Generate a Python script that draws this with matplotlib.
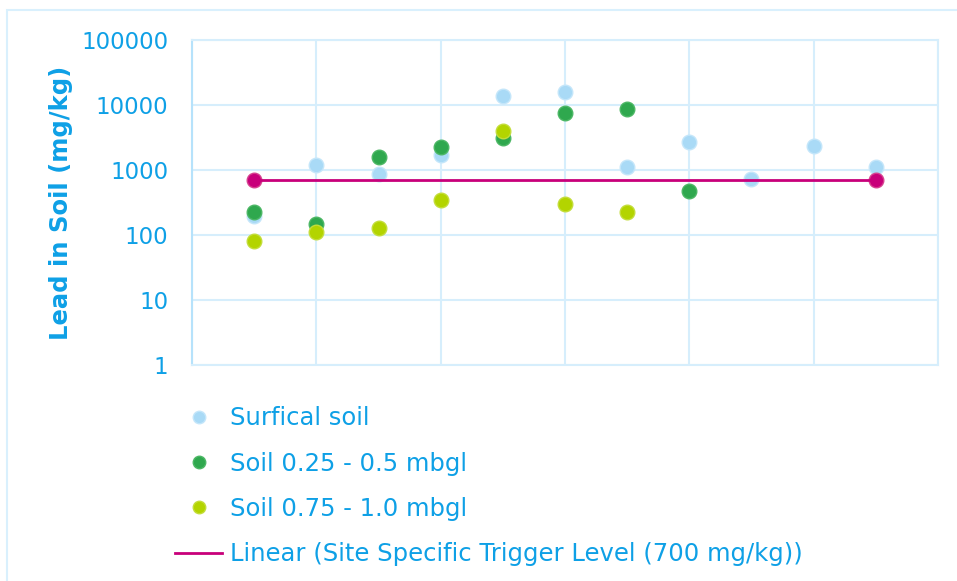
import numpy as np
import matplotlib.pyplot as plt
from matplotlib.lines import Line2D
from matplotlib.patches import Rectangle

# data (sample number along x, lead in mg/kg on y)
x_surf = [1, 2, 3, 4, 5, 6, 7, 8, 9, 10, 11]
surf = [195, 1200, 870, 1720, 13900, 15800, 1120, 2730, 730, 2340, 1120]

x_mid = [1, 2, 3, 4, 5, 6, 7, 8]
mid = [228, 148, 1570, 2290, 3070, 7600, 8560, 480]

x_deep = [1, 2, 3, 4, 5, 6, 7]
deep = [82, 112, 130, 349, 3980, 296, 228]

x_trig = [1, 11]
trig = [700, 700]

labels = ['Surfical soil', 'Soil 0.25 - 0.5 mbgl', 'Soil 0.75 - 1.0 mbgl',
          'Linear (Site Specific Trigger Level (700 mg/kg))']
yticks = [1, 10, 100, 1000, 10000, 100000]

txt_col = '#0ea0e6'
grid_col = '#d6eefc'
c_surf = '#a9daf6'
c_mid = '#2fa84e'
c_deep = '#b3d400'
c_trig = '#c8007a'

fig = plt.figure(figsize=(9.57, 5.81), dpi=100)
# outer chart frame
fig.patches.append(Rectangle((7/957, -0.1), 1.1, 1 - 10/581 + 0.1,
                             transform=fig.transFigure, fill=False,
                             edgecolor='#d9f0fd', linewidth=1.5))

ax = fig.add_axes([192/957, 1 - 365/581, (938 - 192)/957, (365 - 40)/581])
ax.set_yscale('log')
ax.set_ylim(1, 100000)
ax.set_xlim(0, 12)
ax.set_xticks(np.arange(0, 13, 2))
ax.set_xticklabels([])
ax.set_yticks(yticks)
ax.set_yticklabels([str(v) for v in yticks])
ax.minorticks_off()
ax.grid(True, color=grid_col, linewidth=1.5)
ax.set_axisbelow(True)
for s in ax.spines.values():
    s.set_color(grid_col)
    s.set_linewidth(1.5)
ax.spines['left'].set_color('#b6e2fb')

ms = 10.5
ax.plot(x_surf, surf, 'o', ms=ms, color=c_surf, mec='#c4e6fa', mew=1, zorder=3)
ax.plot(x_mid, mid, 'o', ms=ms, color=c_mid, mec='#4cb765', mew=1, zorder=4)
ax.plot(x_deep, deep, 'o', ms=ms, color=c_deep, mec='#c3dd3a', mew=1, zorder=5)
ax.plot(x_trig, trig, 'o', ms=ms, color=c_trig, mec='#d6418f', mew=1, zorder=6)
ax.plot(x_trig, trig, '-', color=c_trig, lw=2, zorder=6)

ax.set_ylabel('Lead in Soil (mg/kg)', fontsize=17.5, fontweight='bold',
              color=txt_col)
ax.yaxis.set_label_coords(-0.16, 0.5)
ax.tick_params(axis='both', length=0, pad=17, labelsize=16.5,
               labelcolor=txt_col)

handles = [
    Line2D([], [], ls='', marker='o', ms=9, color=c_surf, mec='#c4e6fa'),
    Line2D([], [], ls='', marker='o', ms=9, color=c_mid, mec='#4cb765'),
    Line2D([], [], ls='', marker='o', ms=9, color=c_deep, mec='#c3dd3a'),
    Line2D([], [], color=c_trig, lw=2),
]
leg = fig.legend(handles, labels, loc='upper left',
                 bbox_to_anchor=(163/957, 1 - 394/581), frameon=False,
                 fontsize=17.5, labelcolor=txt_col, handlelength=1.93,
                 handletextpad=0.33, labelspacing=0.88, borderpad=0)

fig.savefig('out.png', dpi=100)
